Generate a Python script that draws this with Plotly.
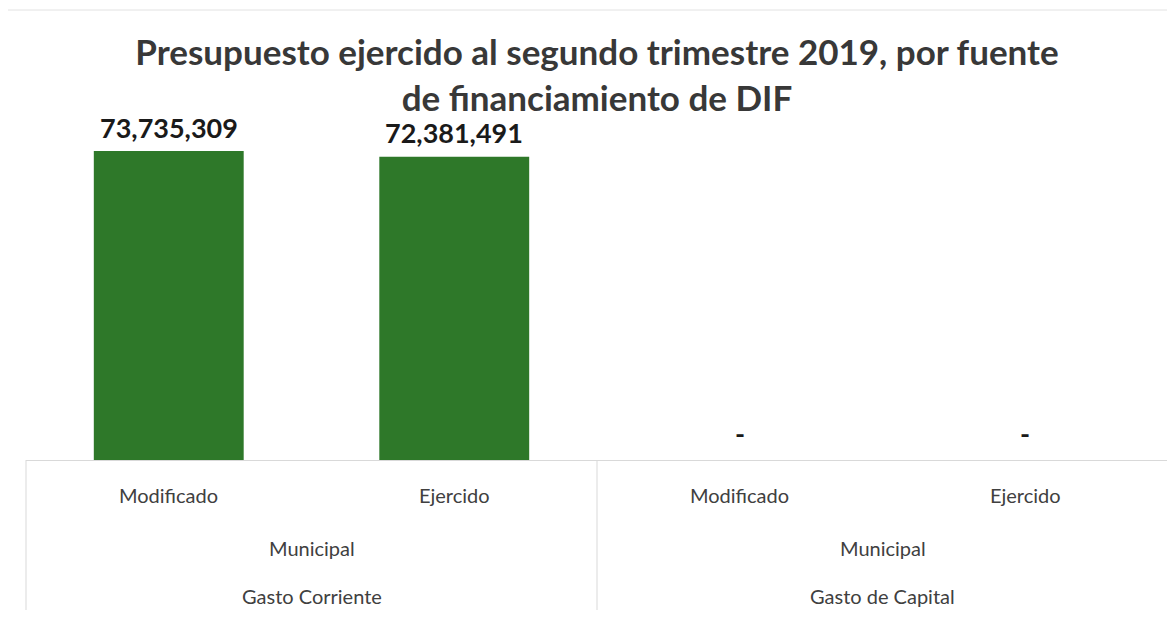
import plotly.graph_objects as go

# ---- data ----
gastos = ["Gasto Corriente", "Gasto Corriente", "Gasto de Capital", "Gasto de Capital"]
fuentes = ["Municipal", "Municipal", "Municipal", "Municipal"]
momentos = ["Modificado", "Ejercido", "Modificado", "Ejercido"]
valores = [73735309, 72381491, 0, 0]
titulo = "Presupuesto ejercido al segundo trimestre 2019, por fuente<br>de financiamiento de DIF"

# unique category keys built from the levels
keys = [f"{g} | {f} | {m}" for g, f, m in zip(gastos, fuentes, momentos)]
etiquetas = [f"{v:,.0f}" if v else "-" for v in valores]

# page body has an 8px margin, so the figure is sized to fit the window
W, H = 1167, 602
L, R, T, B = 18, 7, 92, 150
plot_h = H - T - B
ymax = valores[0] * plot_h / 309.0

GREEN = "#2e7829"
GRID = "#d9d9d9"
TXT = "#404040"
FONT = "Lato"

fig = go.Figure()
fig.add_trace(go.Bar(
    x=keys, y=valores, marker=dict(color=GREEN, line=dict(width=0)),
    width=0.525, hoverinfo="x+y", showlegend=False,
))

ann = []
# data labels
for k, v, t in zip(keys, valores, etiquetas):
    ann.append(dict(x=k, y=v, xref="x", yref="y", text=f"<b>{t}</b>", showarrow=False,
                    yanchor="middle", yshift=24 if v else 27,
                    font=dict(family=FONT, size=27, color="#1a1a1a")))
# level 1 labels (momento)
for k, m in zip(keys, momentos):
    ann.append(dict(x=k, y=0, xref="x", yref="paper", text=m, showarrow=False,
                    yanchor="middle", yshift=-35,
                    font=dict(family=FONT, size=20, color=TXT)))
# level 2 and 3 labels (group centres)
grupos = []
for i, (g, f) in enumerate(zip(gastos, fuentes)):
    if not grupos or grupos[-1][0] != g:
        grupos.append([g, f, i, i])
    else:
        grupos[-1][3] = i
for g, f, i0, i1 in grupos:
    c = (i0 + i1) / 2
    ann.append(dict(x=c, y=0, xref="x", yref="paper", text=f, showarrow=False,
                    yanchor="middle", yshift=-88,
                    font=dict(family=FONT, size=20, color=TXT)))
    ann.append(dict(x=c, y=0, xref="x", yref="paper", text=g, showarrow=False,
                    yanchor="middle", yshift=-136,
                    font=dict(family=FONT, size=20, color=TXT)))

shapes = []
# group dividers
for g, f, i0, i1 in grupos[:-1]:
    shapes.append(dict(type="line", xref="x", yref="paper", x0=i1 + 0.5, x1=i1 + 0.5,
                       y0=0, y1=-0.5, line=dict(color=GRID, width=1)))
for xp in (0, 1):
    shapes.append(dict(type="line", xref="paper", yref="paper", x0=xp, x1=xp,
                       y0=0, y1=-0.5, line=dict(color=GRID, width=1)))
# faint outer chart border (top edge)
shapes.append(dict(type="line", xref="paper", yref="paper",
                   x0=-0.05, x1=1.05, y0=(H - B - 2) / plot_h, y1=(H - B - 2) / plot_h,
                   line=dict(color="#e2e2e2", width=1)))

fig.update_layout(
    width=W, height=H,
    margin=dict(l=L, r=R, t=T, b=B),
    paper_bgcolor="white", plot_bgcolor="white",
    title=dict(text=f"<b>{titulo}</b>", x=0.5, xref="paper", xanchor="center",
               y=1 - 57 / H, yref="container", yanchor="top",
               font=dict(family=FONT, size=35, color="#383838")),
    xaxis=dict(type="category", range=[-0.5, 3.5], showticklabels=False, ticks="",
               showline=True, linecolor=GRID, linewidth=1, showgrid=False, zeroline=False),
    yaxis=dict(range=[0, ymax], visible=False),
    annotations=ann, shapes=shapes,
)

fig.write_html("out.html")
